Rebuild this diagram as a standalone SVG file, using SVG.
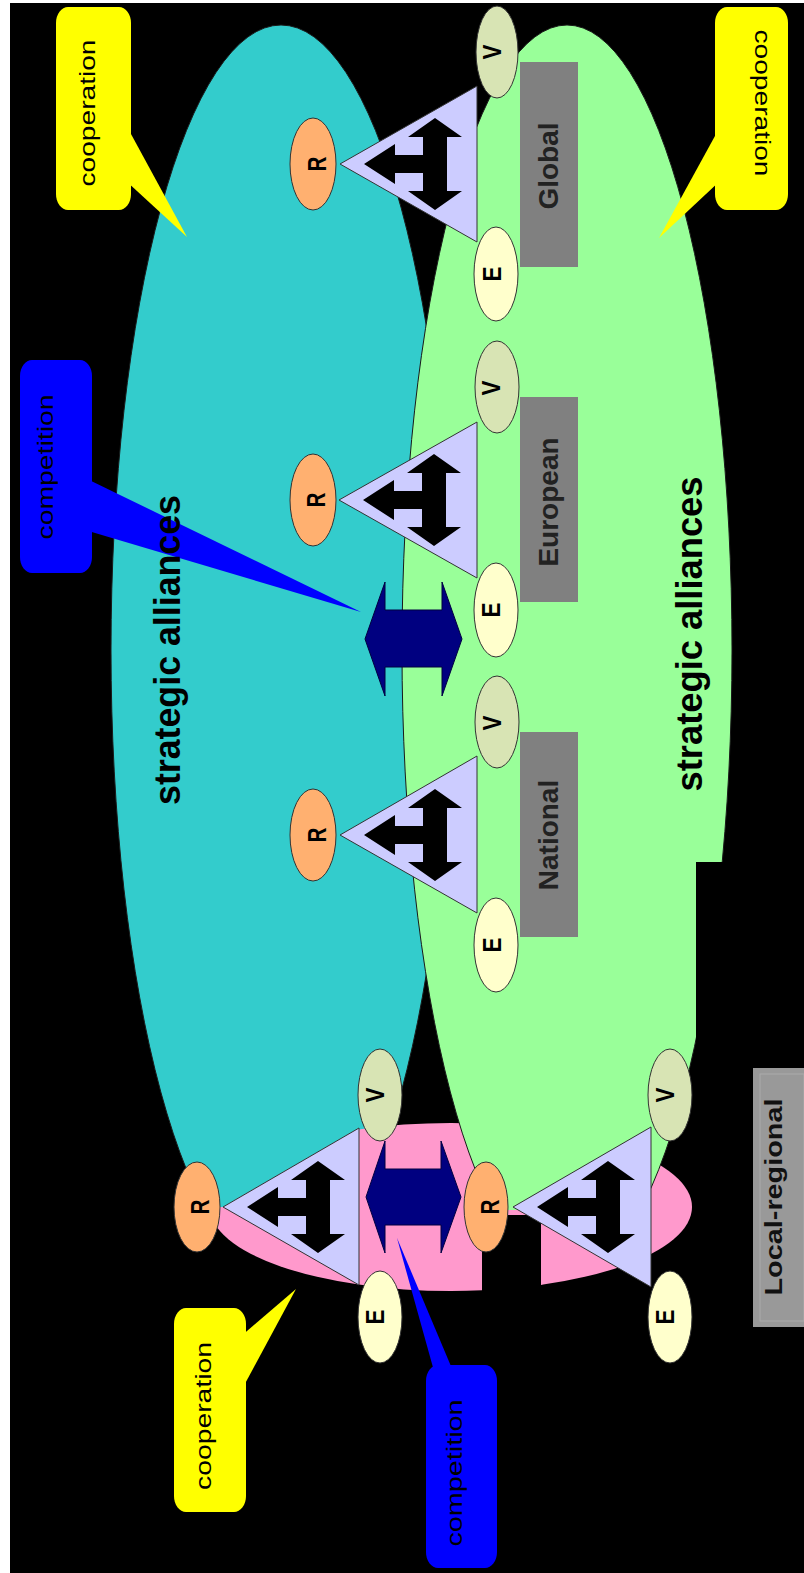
<svg xmlns="http://www.w3.org/2000/svg" width="804" height="1573" viewBox="0 0 804 1573">
<style>
text{font-family:"Liberation Sans",Arial,Helvetica,sans-serif}
.cyan{fill:#33CCCC;stroke:#1a1a1a;stroke-width:1}
.green{fill:#99FF99;stroke:#1a1a1a;stroke-width:1}
.pink{fill:#FF99CC}
.r{fill:#FFB070;stroke:#333;stroke-width:1}
.e{fill:#FFFFCC;stroke:#333;stroke-width:1}
.v{fill:#D8E4B4;stroke:#333;stroke-width:1}
.tri{fill:#CCCCFF;stroke:#333;stroke-width:1}
.a3{fill:#000}
.lvl{fill:#808080}
.letter{font-size:25px;font-weight:bold;fill:#000}
.lvltxt{font-size:28px;font-weight:bold;fill:#222}
.call{font-size:22px;fill:#000}
.sa{font-size:36px;font-weight:bold;fill:#000}
.yellow{fill:#FFFF00}
.blue{fill:#0000FF}
.navy{fill:#000080;stroke:#000040;stroke-width:1}
</style>
<defs>
<clipPath id="clipTop"><rect x="0" y="0" width="804" height="1210"/></clipPath>
<clipPath id="clipPink"><polygon points="150,1207 223,1207 359,1128 359,1100 710,1100 710,1300 541,1300 541,1215 482,1215 482,1300 150,1300"/></clipPath>
</defs>

<rect x="0" y="0" width="804" height="1573" fill="#FFFFFF"/>
<rect x="10" y="3" width="794" height="1570" fill="#000000"/>

<g id="regions">
<ellipse class="cyan" cx="281" cy="650" rx="170" ry="625" clip-path="url(#clipTop)"/>
<ellipse class="pink" cx="451" cy="1207" rx="241" ry="84" clip-path="url(#clipPink)"/>
<ellipse class="green" cx="567" cy="650" rx="165" ry="625" clip-path="url(#clipTop)"/>
<rect x="696" y="862" width="108" height="711" fill="#000000"/>
</g>

<g id="connectors">
<polygon class="navy" points="365,639 385,582 385,610 442,610 442,582 462,639 442,696 442,667 385,667 385,696"/>
<polygon class="navy" points="366,1197 385,1141 385,1169 441,1169 441,1141 461,1197 441,1253 441,1225 385,1225 385,1253"/>
</g>

<g id="callout-cooperation-top-left">
<polygon class="yellow" points="125,123 187,237 125,180"/>
<rect class="yellow" x="56" y="7" width="75" height="203" rx="12" ry="16"/>
<text class="call" transform="translate(95,113) rotate(-90)" text-anchor="middle" textLength="147" lengthAdjust="spacingAndGlyphs">cooperation</text>
</g>
<g id="callout-cooperation-top-right">
<polygon class="yellow" points="721,125 659,238 721,180"/>
<rect class="yellow" x="715" y="7" width="73" height="203" rx="12" ry="16"/>
<text class="call" transform="translate(755,103) rotate(90)" text-anchor="middle" textLength="147" lengthAdjust="spacingAndGlyphs">cooperation</text>
</g>
<g id="callout-competition-top">
<polygon class="blue" points="85,478 361,612 85,530"/>
<rect class="blue" x="20" y="360" width="72" height="213" rx="12" ry="16"/>
<text class="call" transform="translate(53,467) rotate(-90)" text-anchor="middle" textLength="145" lengthAdjust="spacingAndGlyphs">competition</text>
</g>
<g id="callout-cooperation-bottom">
<polygon class="yellow" points="240,1337 296,1289 240,1393"/>
<rect class="yellow" x="174" y="1308" width="72" height="204" rx="12" ry="16"/>
<text class="call" transform="translate(211,1416) rotate(-90)" text-anchor="middle" textLength="148" lengthAdjust="spacingAndGlyphs">cooperation</text>
</g>
<g id="callout-competition-bottom">
<polygon class="blue" points="434,1371 397,1238 453,1371"/>
<rect class="blue" x="426" y="1365" width="71" height="203" rx="12" ry="16"/>
<text class="call" transform="translate(462,1473) rotate(-90)" text-anchor="middle" textLength="147" lengthAdjust="spacingAndGlyphs">competition</text>
</g>

<g id="cluster-global" transform="translate(340,164)">
<polygon class="tri" points="0,0 137,-78 137,78"/>
<polygon class="a3" points="24,0 55,-20 55,-9 83,-9 83,-27 68,-27 95,-46 122,-27 107,-27 107,27 122,27 95,46 68,27 83,27 83,9 55,9 55,20"/>
<g id="global-r"><ellipse class="r" cx="-27" cy="0" rx="23" ry="46"/><text class="letter" transform="translate(-14,0) rotate(-90)" text-anchor="middle" textLength="15" lengthAdjust="spacingAndGlyphs">R</text></g>
<g id="global-v"><ellipse class="v" cx="157" cy="-112" rx="21" ry="46"/><text class="letter" transform="translate(161,-112) rotate(-90)" text-anchor="middle" textLength="15" lengthAdjust="spacingAndGlyphs">V</text></g>
<g id="global-e"><ellipse class="e" cx="156" cy="110" rx="22" ry="47"/><text class="letter" transform="translate(161,110) rotate(-90)" text-anchor="middle" textLength="15" lengthAdjust="spacingAndGlyphs">E</text></g>
<g id="global-level"><rect class="lvl" x="180" y="-102" width="58" height="205"/><text class="lvltxt" transform="translate(218,2) rotate(-90)" text-anchor="middle">Global</text></g>
</g>

<g id="cluster-european" transform="translate(339,500)">
<polygon class="tri" points="0,0 138,-78 138,78"/>
<polygon class="a3" points="24,0 55,-20 55,-9 83,-9 83,-27 68,-27 95,-46 122,-27 107,-27 107,27 122,27 95,46 68,27 83,27 83,9 55,9 55,20"/>
<g id="european-r"><ellipse class="r" cx="-26" cy="0" rx="23" ry="46"/><text class="letter" transform="translate(-14,0) rotate(-90)" text-anchor="middle" textLength="15" lengthAdjust="spacingAndGlyphs">R</text></g>
<g id="european-v"><ellipse class="v" cx="158" cy="-113" rx="22" ry="46"/><text class="letter" transform="translate(161,-112) rotate(-90)" text-anchor="middle" textLength="15" lengthAdjust="spacingAndGlyphs">V</text></g>
<g id="european-e"><ellipse class="e" cx="157" cy="110" rx="22" ry="47"/><text class="letter" transform="translate(161,110) rotate(-90)" text-anchor="middle" textLength="15" lengthAdjust="spacingAndGlyphs">E</text></g>
<g id="european-level"><rect class="lvl" x="181" y="-103" width="58" height="205"/><text class="lvltxt" transform="translate(219,2) rotate(-90)" text-anchor="middle">European</text></g>
</g>

<g id="cluster-national" transform="translate(340,835)">
<polygon class="tri" points="0,0 137,-79 137,78"/>
<polygon class="a3" points="24,0 55,-20 55,-9 83,-9 83,-27 68,-27 95,-46 122,-27 107,-27 107,27 122,27 95,46 68,27 83,27 83,9 55,9 55,20"/>
<g id="national-r"><ellipse class="r" cx="-27" cy="0" rx="23" ry="46"/><text class="letter" transform="translate(-14,0) rotate(-90)" text-anchor="middle" textLength="15" lengthAdjust="spacingAndGlyphs">R</text></g>
<g id="national-v"><ellipse class="v" cx="157" cy="-113" rx="22" ry="46"/><text class="letter" transform="translate(161,-112) rotate(-90)" text-anchor="middle" textLength="15" lengthAdjust="spacingAndGlyphs">V</text></g>
<g id="national-e"><ellipse class="e" cx="156" cy="110" rx="22" ry="47"/><text class="letter" transform="translate(161,110) rotate(-90)" text-anchor="middle" textLength="15" lengthAdjust="spacingAndGlyphs">E</text></g>
<g id="national-level"><rect class="lvl" x="180" y="-103" width="58" height="205"/><text class="lvltxt" transform="translate(218,0) rotate(-90)" text-anchor="middle">National</text></g>
</g>

<g id="cluster-local-a" transform="translate(223,1207)">
<polygon class="tri" points="0,0 136,-79 136,78"/>
<polygon class="a3" points="24,0 55,-20 55,-9 83,-9 83,-27 68,-27 95,-46 122,-27 107,-27 107,27 122,27 95,46 68,27 83,27 83,9 55,9 55,20"/>
<g id="local-a-r"><ellipse class="r" cx="-26" cy="0" rx="23" ry="45"/><text class="letter" transform="translate(-14,0) rotate(-90)" text-anchor="middle" textLength="15" lengthAdjust="spacingAndGlyphs">R</text></g>
<g id="local-a-v"><ellipse class="v" cx="157" cy="-112" rx="22" ry="46"/><text class="letter" transform="translate(161,-112) rotate(-90)" text-anchor="middle" textLength="15" lengthAdjust="spacingAndGlyphs">V</text></g>
<g id="local-a-e"><ellipse class="e" cx="157" cy="110" rx="22" ry="46"/><text class="letter" transform="translate(161,110) rotate(-90)" text-anchor="middle" textLength="15" lengthAdjust="spacingAndGlyphs">E</text></g>
</g>

<g id="cluster-local-b" transform="translate(513,1207)">
<polygon class="tri" points="0,0 138,-80 138,80"/>
<polygon class="a3" points="24,0 55,-20 55,-9 83,-9 83,-27 68,-27 95,-46 122,-27 107,-27 107,27 122,27 95,46 68,27 83,27 83,9 55,9 55,20"/>
<g id="local-b-r"><ellipse class="r" cx="-27" cy="0" rx="22" ry="45"/><text class="letter" transform="translate(-14,0) rotate(-90)" text-anchor="middle" textLength="15" lengthAdjust="spacingAndGlyphs">R</text></g>
<g id="local-b-v"><ellipse class="v" cx="157" cy="-112" rx="22" ry="46"/><text class="letter" transform="translate(161,-112) rotate(-90)" text-anchor="middle" textLength="15" lengthAdjust="spacingAndGlyphs">V</text></g>
<g id="local-b-e"><ellipse class="e" cx="157" cy="110" rx="22" ry="46"/><text class="letter" transform="translate(161,110) rotate(-90)" text-anchor="middle" textLength="15" lengthAdjust="spacingAndGlyphs">E</text></g>
</g>

<g id="label-strategic-cyan">
<text class="sa" transform="translate(180,650) rotate(-90)" text-anchor="middle" textLength="310" lengthAdjust="spacingAndGlyphs">strategic alliances</text>
</g>
<g id="label-strategic-green">
<text class="sa" transform="translate(702,634) rotate(-90)" text-anchor="middle" textLength="315" lengthAdjust="spacingAndGlyphs">strategic alliances</text>
</g>

<g id="level-local-regional">
<rect x="753" y="1068" width="51" height="259" fill="#999999"/>
<rect x="760" y="1074" width="44" height="247" fill="none" stroke="#ABABAB" stroke-width="1"/>
<text transform="translate(782,1197) rotate(-90)" text-anchor="middle" textLength="197" lengthAdjust="spacingAndGlyphs" font-size="23" font-weight="bold" fill="#111">Local-regional</text>
</g>
</svg>
